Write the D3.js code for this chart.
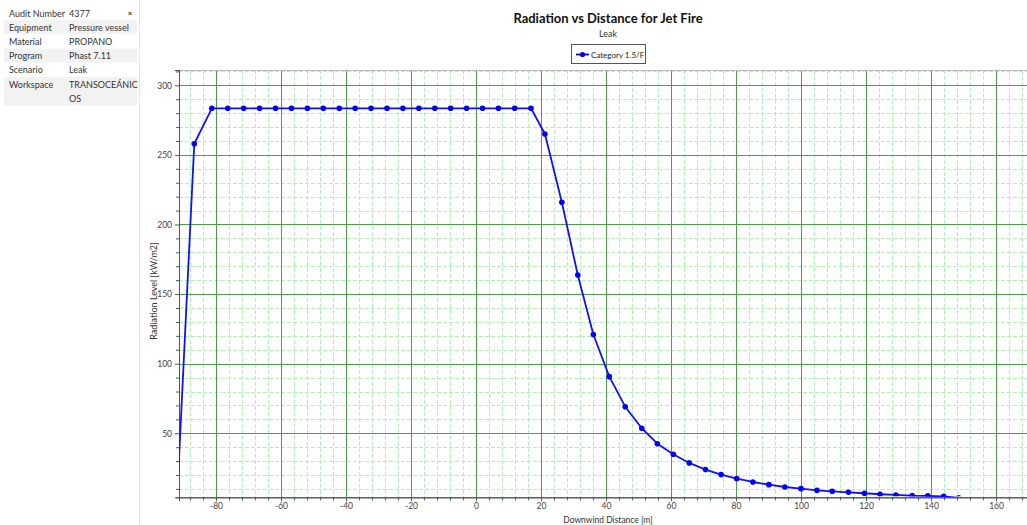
<!DOCTYPE html>
<html><head><meta charset="utf-8">
<script src="https://cdn.jsdelivr.net/npm/d3@7"></script>
<style>
html,body{margin:0;padding:0;background:#fff;overflow:hidden;}
svg{display:block;font-family:Lato,"Open Sans",sans-serif;}
</style></head>
<body>
<svg id="c" width="1027" height="525"></svg>
<script>
// ---- data ----
const infoLabels = ["Audit Number","Equipment","Material","Program","Scenario","Workspace"];
const infoValues = ["4377","Pressure vessel","PROPANO","Phast 7.11","Leak","TRANSOCEÁNIC|OS"];
const seriesName = "Category 1.5/F";
const distance = [-91.6,-86.7,
  -81.3,-76.4,-71.5,-66.6,-61.7,-56.8,-51.9,-47.0,-42.1,-37.2,-32.3,-27.4,-22.5,-17.6,-12.7,-7.8,-2.9,2.0,6.9,11.9,16.9,
  21.2,26.4,31.3,36.1,41.0,45.9,51.0,55.8,60.7,65.6,70.6,75.4,80.2,85.2,90.1,95.0,100.0,104.9,109.6,114.6,119.5,124.3,129.2,134.2,139.0,143.9,148.5];
const radiation = [22,258,
  283.5,283.5,283.5,283.5,283.5,283.5,283.5,283.5,283.5,283.5,283.5,283.5,283.5,283.5,283.5,283.5,283.5,283.5,283.5,283.5,283.5,
  265,216,163.7,121.0,90.7,69.1,53.6,42.5,34.9,28.7,23.9,20.3,17.4,15.0,13.1,11.4,10.2,9.0,8.3,7.6,6.9,6.2,5.7,5.2,5.0,4.7,3.6];
const xMajorTicks = [-80,-60,-40,-20,0,20,40,60,80,100,120,140,160];
const yMajorTicks = [50,100,150,200,250,300];
const xDomain = [-91.4,170.3];
const yDomain = [4,311];
const xMinorStep = 4, yMinorStep = 10;

const svg = d3.select("#c");
const FONT = "Lato,'Open Sans',sans-serif";

// ---- left info panel ----
const panel = svg.append("g");
const rowH = 14.2;
infoLabels.forEach((lab,i)=>{
  const y0 = 6 + i*rowH;
  const h = (i===infoLabels.length-1)? rowH*2 : rowH;
  panel.append("rect").attr("x",4).attr("y",y0).attr("width",133).attr("height",h)
    .attr("fill", i%2===1 ? "#f2f2f2" : "#fff");
  panel.append("text").attr("x",9).attr("y",y0+10.5).attr("font-size",9).attr("fill","#333").text(lab);
  const parts = infoValues[i].split("|");
  parts.forEach((p,k)=>panel.append("text").attr("x",69).attr("y",y0+10.5+k*rowH).attr("font-size",9).attr("fill","#333").text(p));
});
panel.append("text").attr("x",130).attr("y",16).attr("font-size",8).attr("font-weight","bold").attr("fill","#333").attr("text-anchor","middle").text("×");
svg.append("line").attr("x1",139.5).attr("x2",139.5).attr("y1",0).attr("y2",525).attr("stroke","#e4e4e4");

// ---- chart ----
const L=179, R=1029.5, T=70, B=497.3;
const x = d3.scaleLinear().domain(xDomain).range([L,R]);
const y = d3.scaleLinear().domain(yDomain).range([B,T]);

const xMinor = d3.range(Math.ceil(xDomain[0]/xMinorStep)*xMinorStep, xDomain[1], xMinorStep).filter(v=>v%20!==0);
const yMinor = d3.range(Math.ceil(yDomain[0]/yMinorStep)*yMinorStep, yDomain[1], yMinorStep).filter(v=>v%50!==0);

const grid = svg.append("g");
grid.selectAll(".vx").data(xMinor).join("line")
  .attr("x1",d=>Math.round(x(d))+0.5).attr("x2",d=>Math.round(x(d))+0.5).attr("y1",T).attr("y2",B)
  .attr("stroke","#b4f0b4").attr("stroke-dasharray","4,2");
grid.selectAll(".hy").data(yMinor).join("line")
  .attr("y1",d=>Math.round(y(d))+0.5).attr("y2",d=>Math.round(y(d))+0.5).attr("x1",L).attr("x2",R)
  .attr("stroke","#b4f0b4").attr("stroke-dasharray","4,2");
grid.selectAll(".vX").data(xMajorTicks).join("line")
  .attr("x1",d=>Math.round(x(d))+0.5).attr("x2",d=>Math.round(x(d))+0.5).attr("y1",T).attr("y2",B)
  .attr("stroke","#49a049").attr("stroke-width",1);
grid.selectAll(".hY").data(yMajorTicks).join("line")
  .attr("y1",d=>Math.round(y(d))+0.5).attr("y2",d=>Math.round(y(d))+0.5).attr("x1",L).attr("x2",R)
  .attr("stroke","#49a049").attr("stroke-width",1);
svg.append("line").attr("x1",L).attr("x2",R).attr("y1",T+0.5).attr("y2",T+0.5).attr("stroke","#bbb");

// axes
const fmt = d => String(d);
const xAxisMinor = d3.axisBottom(x).tickValues(xMinor).tickSize(3).tickFormat("");
const xAxis = d3.axisBottom(x).tickValues(xMajorTicks).tickSize(4).tickFormat(fmt);
const gx = svg.append("g").attr("transform",`translate(0,${B})`);
gx.append("g").call(xAxisMinor);
gx.append("g").call(xAxis);
const yAxisMinor = d3.axisLeft(y).tickValues(yMinor).tickSize(3).tickFormat("");
const yAxis = d3.axisLeft(y).tickValues(yMajorTicks).tickSize(4).tickFormat(fmt);
const gy = svg.append("g").attr("transform",`translate(${L},0)`);
gy.append("g").call(yAxisMinor);
gy.append("g").call(yAxis);
svg.selectAll(".domain").attr("stroke","#555");
svg.selectAll(".tick line").attr("stroke","#555");
svg.selectAll(".tick text").attr("font-size",8.5).attr("fill","#444").attr("font-family",FONT);
gx.selectAll(".tick text").attr("y",5).attr("dy","0.8em");

// clip + series
svg.append("clipPath").attr("id","pc").append("rect").attr("x",L).attr("y",T).attr("width",R-L).attr("height",B-T);
svg.append("clipPath").attr("id","pm").append("rect").attr("x",L+3).attr("y",T).attr("width",R-L).attr("height",B-T-1);
const pts = distance.map((d,i)=>[d,radiation[i]]);
const series = svg.append("g").attr("clip-path","url(#pc)");
series.append("path").datum(pts)
  .attr("d",d3.line().x(d=>x(d[0])).y(d=>y(d[1])))
  .attr("fill","none").attr("stroke","#1010ff").attr("stroke-width",1.8).attr("stroke-linejoin","round");
svg.append("g").attr("clip-path","url(#pm)").selectAll("circle").data(pts).join("circle")
  .attr("cx",d=>x(d[0])).attr("cy",d=>y(d[1])).attr("r",2.8).attr("fill","#0000ff");

// titles
svg.append("text").attr("x",608).attr("y",23).attr("text-anchor","middle").attr("font-size",13)
  .attr("font-weight","bold").attr("fill","#111").text("Radiation vs Distance for Jet Fire");
svg.append("text").attr("x",608).attr("y",37).attr("text-anchor","middle").attr("font-size",9).attr("fill","#333").text("Leak");
svg.append("text").attr("x",608).attr("y",523).attr("text-anchor","middle").attr("font-size",8.5).attr("fill","#333").text("Downwind Distance [m]");
svg.append("text").attr("transform","translate(157,291) rotate(-90)").attr("text-anchor","middle").attr("font-size",9).attr("fill","#333").text("Radiation Level [kW/m2]");

// legend
const lg = svg.append("g");
lg.append("rect").attr("x",571.5).attr("y",44.5).attr("width",74).attr("height",19).attr("fill","#fff").attr("stroke","#555");
lg.append("line").attr("x1",576).attr("x2",589).attr("y1",54.5).attr("y2",54.5).attr("stroke","#0000ff").attr("stroke-width",1.8);
lg.append("circle").attr("cx",582.5).attr("cy",54.5).attr("r",2.6).attr("fill","#0000ff");
lg.append("text").attr("x",591).attr("y",57.5).attr("font-size",8).attr("fill","#222").text(seriesName);
</script>
</body></html>
